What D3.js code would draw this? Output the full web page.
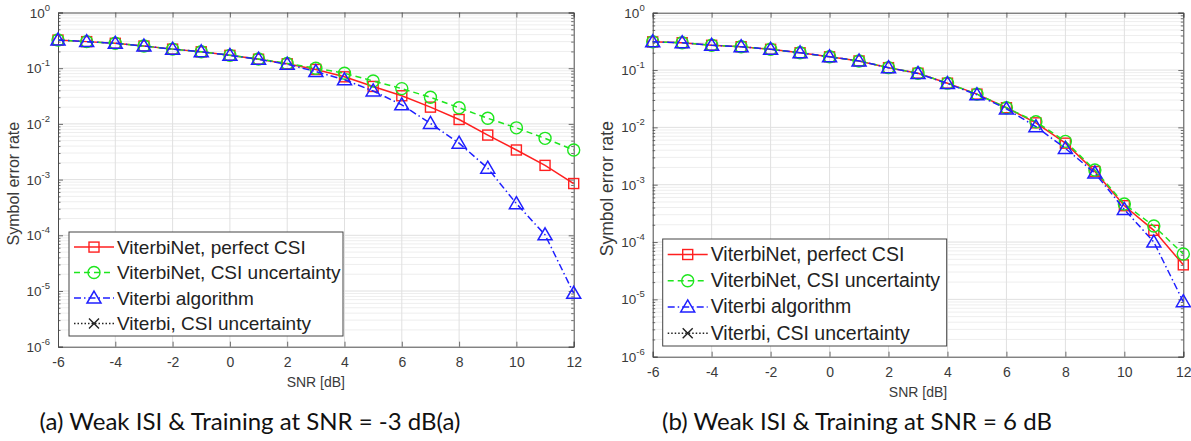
<!DOCTYPE html>
<html><head><meta charset="utf-8">
<script src="https://cdn.jsdelivr.net/npm/d3@7"></script>
<style>body{margin:0;background:#fff} svg{display:block}</style>
</head><body><svg id="c" width="1191" height="441"></svg>
<script>
// ---------- data ----------
const snr = [-6,-5,-4,-3,-2,-1,0,1,2,3,4,5,6,7,8,9,10,11,12];
const xTicks = [-6,-4,-2,0,2,4,6,8,10,12];
const yTickExps = [0,-1,-2,-3,-4,-5,-6];
const seriesNames = ["ViterbiNet, perfect CSI","ViterbiNet, CSI uncertainty","Viterbi algorithm","Viterbi, CSI uncertainty"];
const captions = ["(a) Weak ISI & Training at SNR = -3 dB(a)", "(b) Weak ISI & Training at SNR = 6 dB"];
const xLabel = "SNR [dB]";
const yLabel = "Symbol error rate";

// (a) training at -3 dB
const aPerfect = [0.32,0.30,0.28,0.25,0.22,0.197,0.17,0.145,0.12,0.095,0.07,0.047,0.032,0.020,0.012,0.0063,0.0034,0.0018,0.00085];
const aUncert  = [0.32,0.30,0.28,0.25,0.22,0.197,0.17,0.146,0.122,0.10,0.081,0.059,0.043,0.030,0.0195,0.0126,0.0085,0.0055,0.0034];
const aViterbi = [0.32,0.30,0.28,0.25,0.22,0.197,0.17,0.145,0.118,0.087,0.062,0.039,0.022,0.0102,0.0045,0.0016,0.00037,0.000102,0.0000091];
const aViterbiCsi = []; // not visible in the picture (legend only)

// (b) training at 6 dB
const bPerfect = [0.31,0.30,0.27,0.255,0.23,0.20,0.17,0.144,0.11,0.088,0.059,0.038,0.022,0.012,0.0053,0.0017,0.00043,0.00016,0.00004];
const bUncert  = [0.31,0.30,0.27,0.255,0.23,0.20,0.17,0.144,0.11,0.088,0.059,0.038,0.022,0.0125,0.0057,0.0018,0.00046,0.00019,0.000062];
const bViterbi = [0.31,0.30,0.27,0.255,0.23,0.20,0.17,0.144,0.11,0.087,0.058,0.037,0.021,0.0103,0.0043,0.0016,0.00037,0.0001,0.0000091];
const bViterbiCsi = [];

// ---------- layout / style ----------
const colors = ["#ff1f1f","#1ee61e","#1f1fff","#222"];
const dashes = [null,"6,4","7,3,1.5,3","1.5,2"];
const markers = ["square","circle","triangle","x"];

const panels = [
  {left:58, right:573.7, top:12.5, bottom:346.7, series:[aPerfect,aUncert,aViterbi,aViterbiCsi],
   legend:{x:69,y:232,w:274,h:104,font:19}, caption:captions[0], capX:250, ylabX:18.5, ylabSize:16},
  {left:652.7, right:1183.3, top:12.7, bottom:356.7, series:[bPerfect,bUncert,bViterbi,bViterbiCsi],
   legend:{x:662.7,y:239,w:284,h:107,font:19.5}, caption:captions[1], capX:857, ylabX:612.5, ylabSize:17.5}
];

const svg = d3.select("#c");
const axisCol = "#4a4a4a";
const tickFont = "'Liberation Sans', Arial, sans-serif";

function drawMarker(g, type, x, y, color) {
  if (type === "square") {
    g.append("rect").attr("x", x-5).attr("y", y-5).attr("width",10).attr("height",10)
      .attr("fill","none").attr("stroke",color).attr("stroke-width",1.4);
  } else if (type === "circle") {
    g.append("circle").attr("cx",x).attr("cy",y).attr("r",6)
      .attr("fill","none").attr("stroke",color).attr("stroke-width",1.4);
  } else if (type === "triangle") {
    g.append("path").attr("d",`M${x},${y-7}L${x+7},${y+5}L${x-7},${y+5}Z`)
      .attr("fill","none").attr("stroke",color).attr("stroke-width",1.5);
  } else if (type === "x") {
    g.append("path").attr("d",`M${x-5},${y-5}L${x+5},${y+5}M${x-5},${y+5}L${x+5},${y-5}`)
      .attr("fill","none").attr("stroke",color).attr("stroke-width",1.4);
  }
}

panels.forEach(p => {
  const x = d3.scaleLinear().domain([-6,12]).range([p.left,p.right]);
  const y = d3.scaleLog().domain([1e-6,1]).range([p.bottom,p.top]);
  const g = svg.append("g");

  // minor grid
  const minor = [];
  for (let e=-6; e<0; e++) for (let m=2; m<=9; m++) minor.push(m*Math.pow(10,e));
  g.append("g").selectAll("line").data(minor).join("line")
    .attr("x1",p.left).attr("x2",p.right).attr("y1",d=>y(d)).attr("y2",d=>y(d))
    .attr("stroke","#eeeeee").attr("stroke-width",1);
  // major grid
  g.append("g").selectAll("line").data(yTickExps.slice(1,-1)).join("line")
    .attr("x1",p.left).attr("x2",p.right).attr("y1",d=>y(Math.pow(10,d))).attr("y2",d=>y(Math.pow(10,d)))
    .attr("stroke","#e0e0e0").attr("stroke-width",1);
  g.append("g").selectAll("line").data(xTicks.slice(1,-1)).join("line")
    .attr("x1",d=>x(d)).attr("x2",d=>x(d)).attr("y1",p.top).attr("y2",p.bottom)
    .attr("stroke","#e0e0e0").attr("stroke-width",1);

  // axes (inward ticks)
  const xb = g.append("g").attr("transform",`translate(0,${p.bottom})`)
    .call(d3.axisBottom(x).tickValues(xTicks).tickSize(-5).tickPadding(10).tickFormat(d => String(d)));
  const xt = g.append("g").attr("transform",`translate(0,${p.top})`)
    .call(d3.axisTop(x).tickValues(xTicks).tickSize(-5).tickFormat(""));
  const yl = g.append("g").attr("transform",`translate(${p.left},0)`)
    .call(d3.axisLeft(y).tickValues(yTickExps.map(e=>Math.pow(10,e))).tickSize(-5).tickFormat(""));
  const yr = g.append("g").attr("transform",`translate(${p.right},0)`)
    .call(d3.axisRight(y).tickValues(yTickExps.map(e=>Math.pow(10,e))).tickSize(-5).tickFormat(""));
  // minor ticks
  const ylm = g.append("g").attr("transform",`translate(${p.left},0)`)
    .call(d3.axisLeft(y).tickValues(minor).tickSize(-2.5).tickFormat(""));
  const yrm = g.append("g").attr("transform",`translate(${p.right},0)`)
    .call(d3.axisRight(y).tickValues(minor).tickSize(-2.5).tickFormat(""));
  [xb,xt,yl,yr,ylm,yrm].forEach(a => {
    a.selectAll("path.domain").attr("stroke",axisCol).attr("stroke-width",1);
    a.selectAll("line").attr("stroke",axisCol).attr("stroke-width",0.8);
  });
  [ylm,yrm].forEach(a=>a.select("path.domain").remove());
  xb.selectAll("text").attr("font-family",tickFont).attr("font-size",14).attr("fill","#3a3a3a");

  // y tick labels 10^e
  yTickExps.forEach(e => {
    const t = g.append("text").attr("x",p.left-8).attr("y",y(Math.pow(10,e))+5)
      .attr("text-anchor","end").attr("font-family",tickFont).attr("fill","#3a3a3a");
    t.append("tspan").attr("font-size",13.5).text("10");
    t.append("tspan").attr("font-size",9.5).attr("dy",-7).text(e===0?"0":"-"+(-e));
  });

  // axis labels
  g.append("text").attr("x",(p.left+p.right)/2).attr("y",p.bottom+40.5)
    .attr("text-anchor","middle").attr("font-family",tickFont).attr("font-size",14).attr("fill","#3a3a3a").text(xLabel);
  g.append("text").attr("transform",`translate(${p.ylabX},${(p.top+p.bottom)/2+4}) rotate(-90)`)
    .attr("text-anchor","middle").attr("font-family",tickFont).attr("font-size",p.ylabSize).attr("fill","#3a3a3a").text(yLabel);

  // series
  const line = d3.line().x(d=>x(d[0])).y(d=>y(d[1]));
  p.series.forEach((vals,i) => {
    const pts = vals.map((v,j)=>[snr[j],v]);
    if (!pts.length) return;
    const sg = g.append("g");
    sg.append("path").attr("d",line(pts)).attr("fill","none").attr("stroke",colors[i])
      .attr("stroke-width",1.5).attr("stroke-dasharray",dashes[i]);
    pts.forEach(d => drawMarker(sg, markers[i], x(d[0]), y(d[1]), colors[i]));
  });

  // legend
  const L = p.legend;
  const lg = g.append("g");
  lg.append("rect").attr("x",L.x).attr("y",L.y).attr("width",L.w).attr("height",L.h)
    .attr("fill","#fff").attr("stroke","#444").attr("stroke-width",1);
  seriesNames.forEach((name,i) => {
    const ry = L.y + L.h*0.145 + i*L.h*0.245;
    lg.append("line").attr("x1",L.x+5).attr("x2",L.x+45).attr("y1",ry).attr("y2",ry)
      .attr("stroke",colors[i]).attr("stroke-width",1.5).attr("stroke-dasharray",dashes[i]);
    drawMarker(lg, markers[i], L.x+25, ry, colors[i]);
    lg.append("text").attr("x",L.x+48).attr("y",ry+6.5).attr("font-family",tickFont)
      .attr("font-size",L.font).attr("fill","#222").text(name);
  });

  // caption
  svg.append("text").attr("x",p.capX).attr("y",430).attr("text-anchor","middle")
    .attr("font-family","Lato, 'Open Sans', sans-serif").attr("font-size",24).attr("fill","#111").text(p.caption);
});
</script></body></html>
